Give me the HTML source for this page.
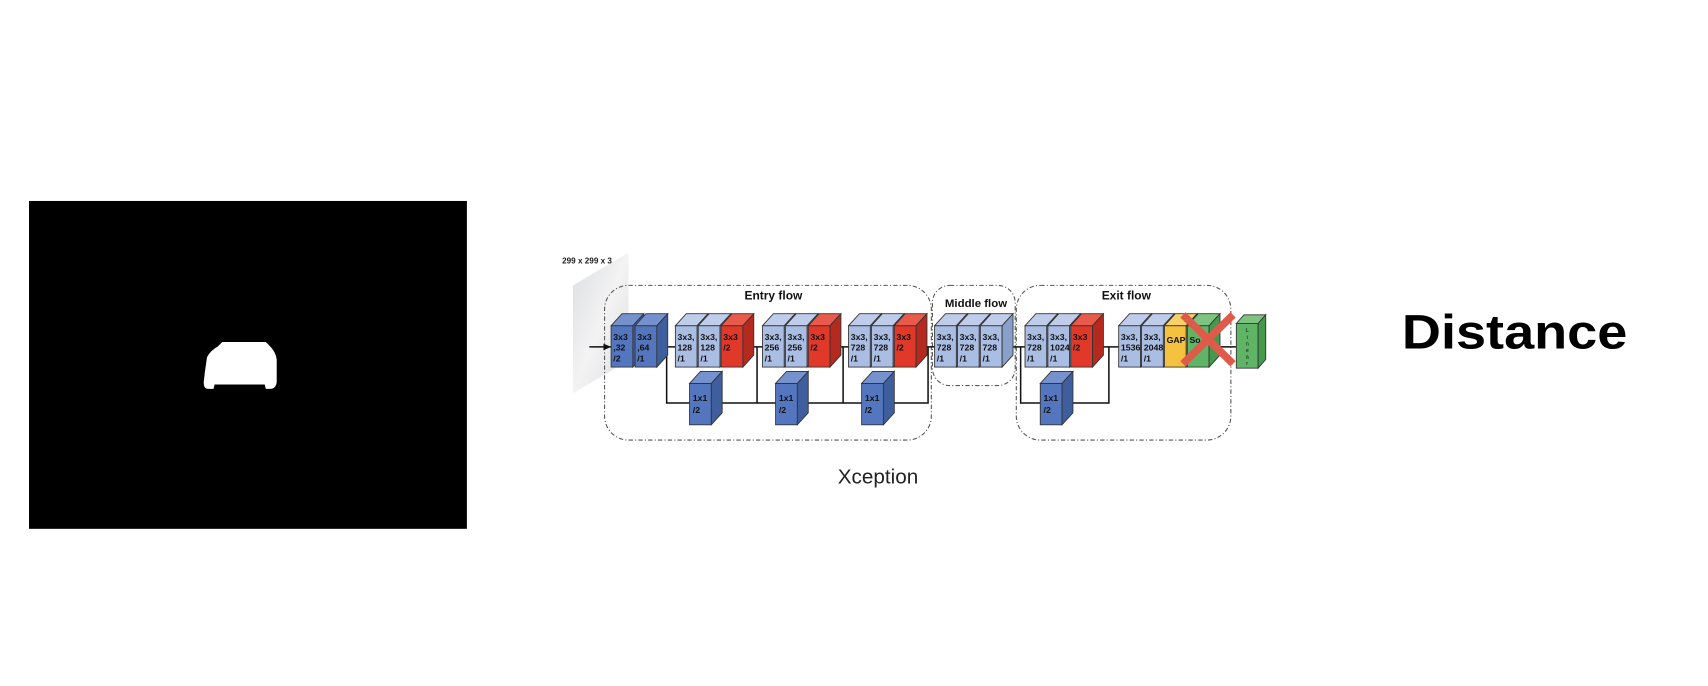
<!DOCTYPE html>
<html><head><meta charset="utf-8"><style>html,body{margin:0;padding:0;background:#fff;}svg{display:block}</style></head>
<body>
<svg width="1708" height="686" viewBox="0 0 1568 629.8" xmlns="http://www.w3.org/2000/svg" font-family="Liberation Sans, sans-serif">
<defs>
<linearGradient id="pg" x1="0" y1="0" x2="1" y2="1"><stop offset="0" stop-color="#dcdddf"/><stop offset="0.5" stop-color="#f3f3f4"/><stop offset="1" stop-color="#dcdddf"/></linearGradient>
<g id="db"><rect x="0" y="0" width="20" height="38" fill="#5476bf" stroke="#333" stroke-width="0.8"/><polygon points="0,0 10,-11 30,-11 20,0" fill="#7592cf" stroke="#333" stroke-width="0.8"/><polygon points="20,0 30,-11 30,27 20,38" fill="#3f5e9e" stroke="#333" stroke-width="0.8"/></g>
<g id="lb"><rect x="0" y="0" width="20" height="38" fill="#aabde3" stroke="#333" stroke-width="0.8"/><polygon points="0,0 10,-11 30,-11 20,0" fill="#bfcdeb" stroke="#333" stroke-width="0.8"/><polygon points="20,0 30,-11 30,27 20,38" fill="#8aa0cc" stroke="#333" stroke-width="0.8"/></g>
<g id="rb"><rect x="0" y="0" width="20" height="38" fill="#e0392a" stroke="#333" stroke-width="0.8"/><polygon points="0,0 10,-11 30,-11 20,0" fill="#e85a4b" stroke="#333" stroke-width="0.8"/><polygon points="20,0 30,-11 30,27 20,38" fill="#b52a1f" stroke="#333" stroke-width="0.8"/></g>
<g id="yb"><rect x="0" y="0" width="20" height="38" fill="#f4c23f" stroke="#333" stroke-width="0.8"/><polygon points="0,0 10,-11 30,-11 20,0" fill="#f7d06a" stroke="#333" stroke-width="0.8"/><polygon points="20,0 30,-11 30,27 20,38" fill="#d9a52a" stroke="#333" stroke-width="0.8"/></g>
<g id="gb"><rect x="0" y="0" width="20" height="38" fill="#5fb565" stroke="#333" stroke-width="0.8"/><polygon points="0,0 10,-11 30,-11 20,0" fill="#7cc47f" stroke="#333" stroke-width="0.8"/><polygon points="20,0 30,-11 30,27 20,38" fill="#45994b" stroke="#333" stroke-width="0.8"/></g>
</defs>
<rect x="26.6" y="184.5" width="402" height="301" fill="#000"/>
<path d="M188,342 L190,328 Q193,322 200,318 L204,314 L244,314 L248,318 Q253,323 254,330 L254,351 Q253,357 248,357 L244,357 L243,353 L197,353 L196,357 L191,357 Q187,357 187,351 Z" fill="#fff"/>

<polygon points="526,262 577,232 577,331 526,361" fill="url(#pg)"/>
<text x="516" y="242" font-size="7.5" font-weight="bold" fill="#222">299 x 299 x 3</text>

<g fill="none" stroke="#555" stroke-width="1" stroke-dasharray="4 2 1 2">
<rect x="555" y="262" width="300" height="142" rx="22"/>
<rect x="856" y="262" width="76" height="92" rx="16"/>
<rect x="933" y="262" width="197" height="142" rx="22"/>
</g>
<text x="710" y="275" font-size="11" font-weight="bold" text-anchor="middle" fill="#111">Entry flow</text>
<text x="896" y="282" font-size="10.5" font-weight="bold" text-anchor="middle" fill="#111">Middle flow</text>
<text x="1034" y="275" font-size="11" font-weight="bold" text-anchor="middle" fill="#111">Exit flow</text>

<g stroke="#111" stroke-width="1.4" fill="none">
<line x1="1162" y1="318.5" x2="541" y2="318.5"/>
<polyline points="612,318.5 612,370 695,370 695,318.5"/>
<polyline points="695,370 774,370 774,318.5"/>
<polyline points="774,370 852,370 852,318.5"/>
<polyline points="937,318.5 937,370 1018,370 1018,318.5"/>
</g>
<polygon points="561,318.5 554,315.5 554,321.5" fill="#111"/>

<use href="#db" x="561" y="299"/><use href="#db" x="583" y="299"/>
<use href="#lb" x="620" y="299"/><use href="#lb" x="641" y="299"/><use href="#rb" x="662" y="299"/>
<use href="#lb" x="700" y="299"/><use href="#lb" x="721" y="299"/><use href="#rb" x="742" y="299"/>
<use href="#lb" x="779" y="299"/><use href="#lb" x="800" y="299"/><use href="#rb" x="821" y="299"/>
<use href="#lb" x="858" y="299"/><use href="#lb" x="879" y="299"/><use href="#lb" x="900" y="299"/>
<use href="#lb" x="941" y="299"/><use href="#lb" x="962" y="299"/><use href="#rb" x="983" y="299"/>
<use href="#lb" x="1027" y="299"/><use href="#lb" x="1048" y="299"/>
<use href="#yb" x="1069" y="299"/><use href="#gb" x="1090" y="299"/>
<use href="#db" x="633" y="352"/><use href="#db" x="712" y="352"/><use href="#db" x="791" y="352"/><use href="#db" x="955" y="352"/>
<rect x="1135" y="297" width="20" height="41" fill="#5fb565" stroke="#333" stroke-width="0.8"/>
<polygon points="1135,297 1142,289 1162,289 1155,297" fill="#7cc47f" stroke="#333" stroke-width="0.8"/>
<polygon points="1155,297 1162,289 1162,330 1155,338" fill="#45994b" stroke="#333" stroke-width="0.8"/>

<g font-size="8" font-weight="bold" fill="#111">
<text x="563" y="312">3x3</text><text x="563" y="322">,32</text><text x="563" y="332">/2</text>
<text x="585" y="312">3x3</text><text x="585" y="322">,64</text><text x="585" y="332">/1</text>
<text x="622" y="312">3x3,</text><text x="622" y="322">128</text><text x="622" y="332">/1</text>
<text x="643" y="312">3x3,</text><text x="643" y="322">128</text><text x="643" y="332">/1</text>
<text x="664" y="312">3x3</text><text x="664" y="322">/2</text>
<text x="702" y="312">3x3,</text><text x="702" y="322">256</text><text x="702" y="332">/1</text>
<text x="723" y="312">3x3,</text><text x="723" y="322">256</text><text x="723" y="332">/1</text>
<text x="744" y="312">3x3</text><text x="744" y="322">/2</text>
<text x="781" y="312">3x3,</text><text x="781" y="322">728</text><text x="781" y="332">/1</text>
<text x="802" y="312">3x3,</text><text x="802" y="322">728</text><text x="802" y="332">/1</text>
<text x="823" y="312">3x3</text><text x="823" y="322">/2</text>
<text x="860" y="312">3x3,</text><text x="860" y="322">728</text><text x="860" y="332">/1</text>
<text x="881" y="312">3x3,</text><text x="881" y="322">728</text><text x="881" y="332">/1</text>
<text x="902" y="312">3x3,</text><text x="902" y="322">728</text><text x="902" y="332">/1</text>
<text x="943" y="312">3x3,</text><text x="943" y="322">728</text><text x="943" y="332">/1</text>
<text x="964" y="312">3x3,</text><text x="964" y="322" textLength="18" lengthAdjust="spacingAndGlyphs">1024</text><text x="964" y="332">/1</text>
<text x="985" y="312">3x3</text><text x="985" y="322">/2</text>
<text x="1029" y="312">3x3,</text><text x="1029" y="322" textLength="18" lengthAdjust="spacingAndGlyphs">1536</text><text x="1029" y="332">/1</text>
<text x="1050" y="312">3x3,</text><text x="1050" y="322" textLength="18" lengthAdjust="spacingAndGlyphs">2048</text><text x="1050" y="332">/1</text>
<text x="1071" y="315">GAP</text><text x="1092" y="315">So</text>
<text x="636" y="368">1x1</text><text x="636" y="379">/2</text>
<text x="715" y="368">1x1</text><text x="715" y="379">/2</text>
<text x="794" y="368">1x1</text><text x="794" y="379">/2</text>
<text x="958" y="368">1x1</text><text x="958" y="379">/2</text>
</g>
<g font-size="5" fill="#111" text-anchor="middle"><text x="1145" y="305">L</text><text x="1145" y="311">i</text><text x="1145" y="317">n</text><text x="1145" y="323">e</text><text x="1145" y="329">a</text><text x="1145" y="335">r</text></g>

<g stroke="#e05a4a" stroke-width="7" stroke-linecap="butt">
<line x1="1086" y1="289" x2="1132" y2="334"/><line x1="1132" y1="289" x2="1086" y2="334"/>
</g>

<text x="806" y="444" font-size="19" text-anchor="middle" fill="#222">Xception</text>
<text x="1287" y="320" font-size="44" font-weight="bold" fill="#000" textLength="207" lengthAdjust="spacingAndGlyphs">Distance</text>
</svg>
</body></html>
